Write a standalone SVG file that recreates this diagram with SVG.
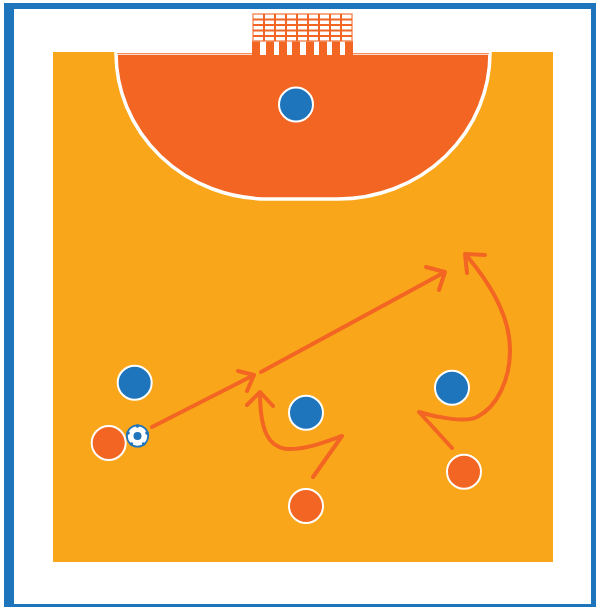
<svg xmlns="http://www.w3.org/2000/svg" width="596" height="607" viewBox="0 0 596 607">
<defs><style>
.blue{fill:#1f75bb;stroke:#fff;stroke-width:2}
.red{fill:#f26522;stroke:#fff;stroke-width:2}
.run{fill:none;stroke:#f26522;stroke-width:4;stroke-linecap:round;stroke-linejoin:round}
</style></defs>
<rect width="596" height="607" fill="#fff"/>
<rect x="4" y="3" width="592" height="604" fill="#1f75bb"/>
<rect x="14" y="9" width="577" height="595" fill="#fff"/>
<rect x="53" y="52" width="500" height="510" fill="#faa61a"/>
<g id="area"><path d="M116 53H490A152 146 0 0 1 338 199H268A152 146 0 0 1 116 53Z" fill="#f26522" stroke="#fff" stroke-width="3.500"/><path d="M117 53.500H489" stroke="#f58e5e" stroke-width="1" fill="none"/></g>
<g id="goal">
<path d="M252 41h101v14h-101z" fill="#f26522"/>
<path d="M260 41h6v14h-6zM274 41h5v14h-5zM287 41h5v14h-5zM300 41h6v14h-6zM314 41h5v14h-5zM327 41h5v14h-5zM340 41h5v14h-5z" fill="#fff"/>
<path d="M253 14h99v27h-99z" fill="#fff" stroke="#f58e5e" stroke-width="1.400"/>
<path d="M253 19.500h99M253 25h99M253 30.500h99M253 36h99M264 14v27M275 14v27M286 14v27M297 14v27M308 14v27M319 14v27M330 14v27M341 14v27" fill="none" stroke="#f26522" stroke-width="2"/>
</g>
<g id="connectors">
<path class="run" d="M152 427L254 375M238 371L254 375L247 391"/>
<path class="run" d="M261 372L445 272M426 267L445 272L439 290"/>
<path class="run" d="M313 477L342 436C325 442 305 450 287 449C268 447 260 430 260 392M247 405L260 392L273 406"/>
<path class="run" d="M452 448L419 412C435 417 465 423 477 417C497 407 510 380 510 350C510 315 490 283 466 255M467 273L465 254L485 255"/>
</g>
<g id="keeper"><circle class="blue" cx="296" cy="104.500" r="17"/></g>
<g id="blue-1"><circle class="blue" cx="134.700" cy="382.700" r="17"/></g>
<g id="blue-2"><circle class="blue" cx="306" cy="412.700" r="17"/></g>
<g id="blue-3"><circle class="blue" cx="452" cy="387.700" r="17"/></g>
<g id="red-1"><circle class="red" cx="108.700" cy="443" r="17"/></g>
<g id="red-2"><circle class="red" cx="306" cy="506" r="17"/></g>
<g id="red-3"><circle class="red" cx="464" cy="471.700" r="17"/></g>
<g id="ball"><circle cx="137.500" cy="436" r="11.500" fill="#1f75bb"/><circle cx="137.500" cy="436" r="6.500" fill="none" stroke="#fff" stroke-width="6.500"/><circle cx="137.500" cy="436" r="4" fill="#1f75bb"/><g fill="#1f75bb"><circle cx="137.500" cy="426" r="1.800"/><circle cx="147" cy="433" r="1.800"/><circle cx="143.500" cy="444" r="1.800"/><circle cx="131.500" cy="444" r="1.800"/><circle cx="128" cy="433" r="1.800"/></g></g>
</svg>
